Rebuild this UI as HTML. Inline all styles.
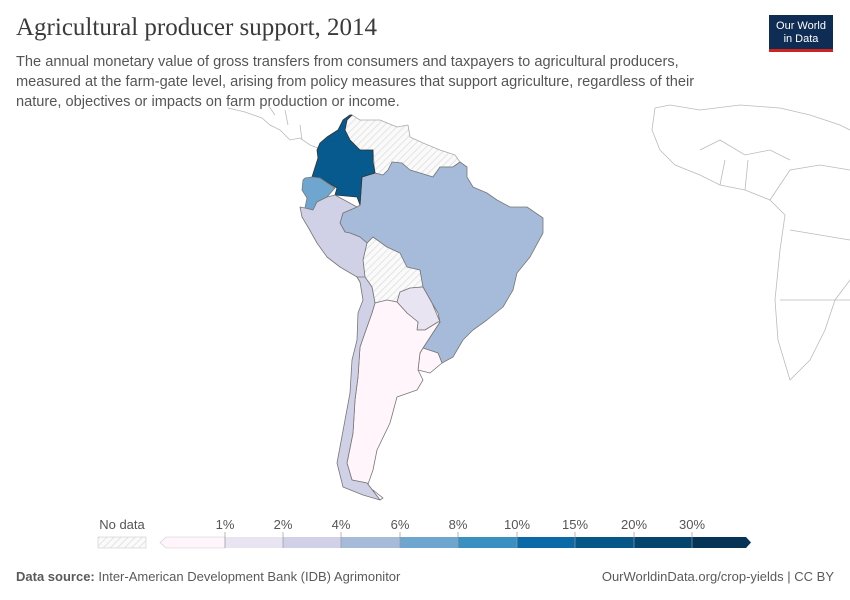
<!DOCTYPE html>
<html><head><meta charset="utf-8"><style>
body{margin:0;width:850px;height:600px;background:#fff;font-family:"Liberation Sans",sans-serif;position:relative;overflow:hidden}
.t{position:absolute;left:16px;top:14px;font-family:"Liberation Serif",serif;font-size:25px;color:#3a3a3a}
.s{position:absolute;left:16px;top:52px;font-size:14.6px;line-height:20px;color:#555;width:720px}
.logo{position:absolute;left:769px;top:15px;width:64px;height:37px;background:#0f2d54;border-bottom:3px solid #ce261e;color:#fff;font-size:11px;text-align:center;line-height:13px;padding-top:5px;box-sizing:border-box}
.f{position:absolute;top:569px;font-size:13px;color:#5a5a5a}
</style></head><body>
<div class="t">Agricultural producer support, 2014</div>
<div class="s">The annual monetary value of gross transfers from consumers and taxpayers to agricultural producers, measured at the farm-gate level, arising from policy measures that support agriculture, regardless of their nature, objectives or impacts on farm production or income.</div>
<div class="logo">Our World<br>in Data</div>
<svg width="850" height="600" style="position:absolute;left:0;top:0">
<defs><pattern id="h" width="5" height="5" patternUnits="userSpaceOnUse" patternTransform="rotate(45)"><rect width="5" height="5" fill="#fafafa"/><line x1="0" y1="0" x2="0" y2="5" stroke="#ddd" stroke-width="1.5"/></pattern></defs>
<g fill="none" stroke="#bbb" stroke-width="0.8">
<path d="M228,108 L245,112 L262,118 L270,125 L280,130 L290,140 L300,138 L310,145 L318,148 L325,140 L338,130"/>
<path d="M268,105 L275,115 M285,110 L288,125 M300,125 L302,140"/>
<path d="M655,108 L670,105 L700,110 L740,105 L780,108 L810,115 L840,125 L850,130 M655,108 L652,130 L660,150 L675,165 L700,175 L720,185 L745,190 L770,200 L785,215 L780,250 L775,300 L778,340 L790,380 L810,360 L825,330 L835,300 L850,280"/>
<path d="M700,150 L720,140 L745,155 L770,150 L790,160 M720,185 L725,160 M745,190 L748,160 M770,200 L790,170 L820,165 L850,170 M790,230 L850,240 M780,300 L850,300"/>
</g>
<g stroke="#777" stroke-width="0.8" stroke-linejoin="round">
<path fill="url(#h)" stroke="#aaa" d="M352,115 L347,120 L345,130 L350,140 L360,150 L373,150 L375,173 L383,175 L388,170 L392,162 L402,163 L410,170 L420,173 L433,177 L440,167 L453,167 L460,162 L455,155 L440,150 L423,143 L410,137 L408,125 L397,127 L380,120 L360,120Z"/>
<path fill="url(#h)" stroke="#aaa" d="M367,243 L363,260 L365,277 L372,287 L375,303 L387,300 L397,302 L400,292 L410,288 L420,287 L423,287 L420,270 L407,267 L400,253 L387,247 L373,237Z"/>
<path fill="#a6bbd9" d="M343,213 L340,223 L345,232 L350,233 L360,237 L367,243 L373,237 L387,247 L400,253 L407,267 L420,270 L423,287 L432,303 L438,313 L440,322 L423,348 L438,353 L442,363 L453,357 L463,340 L473,330 L487,320 L503,307 L513,290 L517,273 L530,257 L543,233 L543,218 L527,207 L510,207 L497,200 L487,193 L473,187 L467,177 L467,167 L460,162 L453,167 L440,167 L433,177 L420,173 L410,170 L402,163 L392,162 L388,170 L383,175 L375,173 L362,177 L360,205 L357,207Z"/>
<path fill="#075a8e" stroke="#333" d="M350,115 L343,120 L338,130 L327,137 L320,143 L317,150 L318,158 L312,177 L320,178 L332,185 L337,188 L335,195 L357,197 L360,205 L362,177 L375,173 L373,162 L373,150 L360,150 L350,140 L345,130 L347,120 L352,115Z"/>
<path fill="#6ea6cf" d="M303,180 L302,190 L307,198 L305,208 L313,210 L317,202 L327,197 L335,188 L320,178 L312,177 L305,178Z"/>
<path fill="#d0d1e6" d="M300,207 L302,217 L308,227 L317,243 L327,257 L340,267 L357,277 L360,282 L365,277 L363,260 L367,243 L360,237 L350,233 L345,232 L340,223 L343,213 L357,207 L335,195 L327,197 L317,202 L313,210 L305,208Z"/>
<path fill="#e8e4f2" d="M397,302 L407,313 L418,322 L417,330 L425,330 L438,322 L440,322 L432,303 L423,287 L410,288 L400,292Z"/>
<path fill="#fff5fa" d="M423,348 L420,353 L418,370 L430,373 L442,363 L438,353Z"/>
<path fill="#fff5fa" d="M375,303 L372,313 L367,327 L360,347 L358,377 L355,400 L353,433 L347,463 L352,480 L367,483 L380,500 L383,498 L373,490 L367,487 L373,470 L377,450 L390,423 L397,397 L417,390 L423,380 L418,370 L420,353 L423,348 L440,322 L438,322 L425,330 L417,330 L418,322 L407,313 L397,302 L387,300Z"/>
<path fill="#d0d1e6" d="M357,277 L360,282 L363,300 L358,313 L357,340 L352,360 L350,393 L345,420 L340,447 L337,463 L343,487 L363,495 L380,500 L367,483 L352,480 L347,463 L353,433 L355,400 L358,377 L360,347 L367,327 L372,313 L375,303 L372,287 L365,277Z"/>
</g>
<g font-size="13" fill="#555" text-anchor="middle">
<text x="122" y="529">No data</text>
<rect x="98" y="537" width="48" height="11" fill="url(#h)" stroke="#ccc" stroke-width="0.6"/>
<path d="M225,537 H166 L160,542.5 L166,548 H225Z" fill="#fff5fa" stroke="#ccc" stroke-width="0.6"/>
<rect x="225" y="537" width="58" height="11" fill="#e8e4f2"/>
<rect x="283" y="537" width="58" height="11" fill="#d0d1e6"/>
<rect x="341" y="537" width="59" height="11" fill="#a6bbd9"/>
<rect x="400" y="537" width="58" height="11" fill="#6ea6cf"/>
<rect x="458" y="537" width="59" height="11" fill="#3a90c0"/>
<rect x="517" y="537" width="58" height="11" fill="#0a6aa8"/>
<rect x="575" y="537" width="59" height="11" fill="#065688"/>
<rect x="634" y="537" width="58" height="11" fill="#04456f"/>
<path d="M692,537 H746 L751,542.5 L746,548 H692Z" fill="#053457"/>
<g stroke="#999" stroke-width="0.7"><line x1="225" y1="532" x2="225" y2="548"/><line x1="283" y1="532" x2="283" y2="548"/><line x1="341" y1="532" x2="341" y2="548"/><line x1="400" y1="532" x2="400" y2="548"/><line x1="458" y1="532" x2="458" y2="548"/><line x1="517" y1="532" x2="517" y2="548"/><line x1="575" y1="532" x2="575" y2="548"/><line x1="634" y1="532" x2="634" y2="548"/><line x1="692" y1="532" x2="692" y2="548"/></g>
<text x="225" y="529">1%</text><text x="283" y="529">2%</text><text x="341" y="529">4%</text><text x="400" y="529">6%</text><text x="458" y="529">8%</text><text x="517" y="529">10%</text><text x="575" y="529">15%</text><text x="634" y="529">20%</text><text x="692" y="529">30%</text>
</g>
</svg>
<div class="f" style="left:16px"><b>Data source:</b> Inter-American Development Bank (IDB) Agrimonitor</div>
<div class="f" style="right:16px">OurWorldinData.org/crop-yields | CC BY</div>
</body></html>
